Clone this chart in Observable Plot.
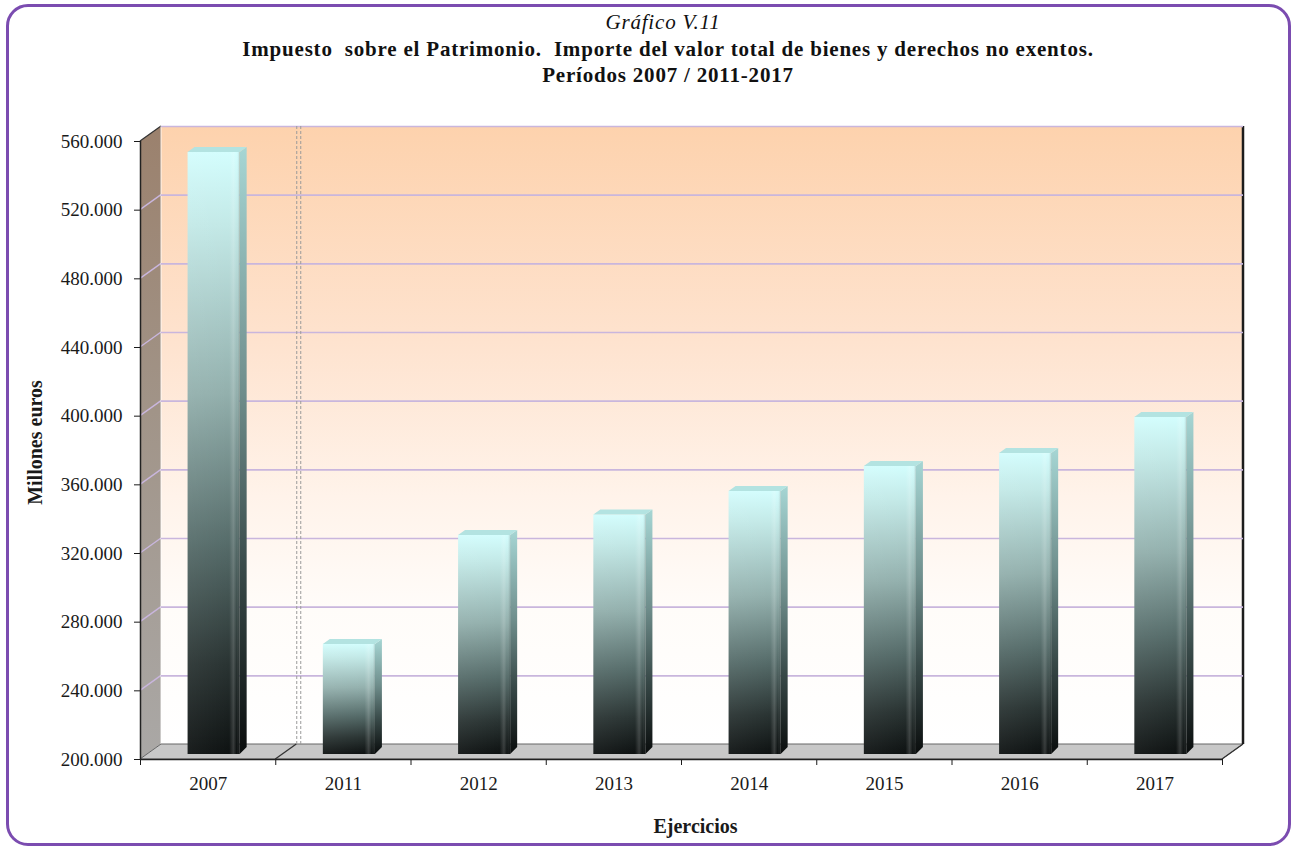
<!DOCTYPE html>
<html>
<head>
<meta charset="utf-8">
<script src="https://cdn.jsdelivr.net/npm/d3@7"></script>
<script src="https://cdn.jsdelivr.net/npm/@observablehq/plot@0.6"></script>
<style>
  html, body { margin: 0; padding: 0; background: #fff; }
  body { width: 1292px; height: 847px; overflow: hidden; position: relative;
         font-family: "Liberation Serif", "Times New Roman", serif; color: #111; }
  #frame { position: absolute; left: 6px; top: 4px; width: 1285px; height: 842px; box-sizing: border-box;
           border: 3px solid #7b4cb0; border-radius: 22px; pointer-events: none; }
  #title { height: 100px; box-sizing: border-box; padding-top: 9px; padding-left: 44px; text-align: center; overflow: hidden; }
  #title div { line-height: 26.5px; font-size: 21px; letter-spacing: 0.8px; white-space: pre; }
  #title .t0 { font-style: italic; margin-left: -10px; }
  #title .t1 { font-weight: bold; }
  #chart svg { display: block; }
</style>
</head>
<body>
<div id="title"><div class="t0">Gráfico V.11</div><div class="t1">Impuesto  sobre el Patrimonio.  Importe del valor total de bienes y derechos no exentos.</div><div class="t1">Períodos 2007 / 2011-2017</div></div>
<div id="chart"></div>
<div id="frame"></div>
<script>
// ---- data ----
const years = ["2007", "2011", "2012", "2013", "2014", "2015", "2016", "2017"];
const values = [550700, 264100, 327600, 339500, 353200, 367800, 375300, 396300];
const yTicks = [200000, 240000, 280000, 320000, 360000, 400000, 440000, 480000, 520000, 560000];
const xLabel = "Ejercicios";
const yLabel = "Millones euros";

const barData = years.map((year, i) => ({year, i, value: values[i]}));
const fmt = d => d3.format(",")(d).replace(/,/g, ".");

// 3D offsets (pixels)
const DX = 21, DY = -15;   // wall depth
const BX = 6, BY = -5;     // bar front plane offset
const BDX = 7, BDY = -5;   // bar depth

const chart = Plot.plot({
  width: 1292, height: 747,
  marginLeft: 140, marginRight: 70, marginTop: 41, marginBottom: 88,
  style: {fontFamily: '"Liberation Serif","Times New Roman",serif', fontSize: "19px",
          color: "#1a1a1a", background: "transparent", overflow: "visible"},
  x: {domain: [0, 8], ticks: d3.range(9), tickFormat: () => "", tickSize: 6, label: null},
  y: {domain: [200000, 560000], ticks: yTicks, tickFormat: fmt, tickSize: 6, tickPadding: 12, label: null},
  marks: [
    Plot.ruleY(yTicks.slice(1), {x1: 0, x2: 8, dx: DX, dy: DY, stroke: "#c9b6dd", strokeWidth: 1.6}),
    Plot.ruleX([1], {y1: 200000, y2: 560000, dx: DX, dy: DY, stroke: "#9a9a9a", strokeDasharray: "3,2"}),
    Plot.ruleX([1], {y1: 200000, y2: 560000, dx: DX + 4, dy: DY, stroke: "#9a9a9a", strokeDasharray: "3,2"}),
    Plot.rectY(barData, {x1: d => d.i + 0.3075, x2: d => d.i + 0.6925, y1: 200000, y2: "value",
                         dx: BX, dy: BY, fill: "url(#barFront)"}),
    Plot.rectY(barData, {x1: d => d.i + 0.3075, x2: d => d.i + 0.6925, y1: 200000, y2: "value",
                         dx: BX, dy: BY, fill: "url(#barShine)"}),
    Plot.ruleX([0], {y1: 200000, y2: 560000, stroke: "#222", strokeWidth: 1.5}),
    Plot.ruleY([200000], {x1: 0, x2: 8, stroke: "#222", strokeWidth: 1.5}),
    Plot.text(years, {x: (d, i) => i + 0.5, y: () => 200000, dy: 24, fontSize: 19}),
    Plot.text([xLabel], {frameAnchor: "bottom", lineAnchor: "middle", dx: 14, dy: 67, fontWeight: "bold", fontSize: 20}),
    Plot.text([yLabel], {frameAnchor: "left", textAnchor: "middle", rotate: -90, dx: -105, dy: -8, fontWeight: "bold", fontSize: 20})
  ]
});

document.getElementById("chart").appendChild(chart);

// ---- 3D decoration derived from Plot's scales ----
const svg = d3.select(chart);
const sx = chart.scale("x"), sy = chart.scale("y");
const X = d3.scaleLinear().domain(sx.domain).range(sx.range);
const Y = d3.scaleLinear().domain(sy.domain).range(sy.range);

const defs = svg.insert("defs", ":first-child");
function vgrad(id, stops, horiz) {
  const g = defs.append("linearGradient").attr("id", id)
    .attr("x1", 0).attr("y1", 0).attr("x2", horiz ? 1 : 0).attr("y2", horiz ? 0 : 1);
  stops.forEach(([o, c, a]) => g.append("stop").attr("offset", o).attr("stop-color", c)
    .attr("stop-opacity", a == null ? 1 : a));
}
vgrad("wallGrad", [[0, "#fdd2ad"], [0.35, "#fee3cf"], [0.6, "#fff3ea"], [0.78, "#fffcf9"], [1, "#ffffff"]]);
vgrad("leftGrad", [[0, "#9b816d"], [0.45, "#a19488"], [1, "#aaa8a6"]]);
vgrad("barFront", [[0, "#d3fdfd"], [0.12, "#c3e9e7"], [0.4, "#93b0ad"], [0.65, "#566c6a"], [0.85, "#2a3433"], [1, "#0e1212"]]);
vgrad("barSide", [[0, "#a6d6d4"], [0.4, "#6f8e8c"], [0.7, "#384948"], [1, "#0a0d0d"]]);
vgrad("barShine", [[0, "#ffffff", 0.05], [0.8, "#ffffff", 0], [0.88, "#ffffff", 0.16], [0.94, "#ffffff", 0], [1, "#000000", 0.15]], true);

const x0 = X(0), x8 = X(8), y0 = Y(200000), yT = Y(560000);
const bg = svg.insert("g", "g");
bg.append("rect").attr("x", x0 + DX).attr("y", yT + DY).attr("width", x8 - x0).attr("height", y0 - yT)
  .attr("fill", "url(#wallGrad)");
bg.append("polygon")
  .attr("points", [[x0, yT], [x0 + DX, yT + DY], [x0 + DX, y0 + DY], [x0, y0]].join(" "))
  .attr("fill", "url(#leftGrad)");
yTicks.slice(1, -1).forEach(v => {
  bg.append("line").attr("x1", x0).attr("y1", Y(v)).attr("x2", x0 + DX).attr("y2", Y(v) + DY)
    .attr("stroke", "#c9b6dd").attr("stroke-width", 1.4);
});
bg.append("line").attr("x1", x0).attr("y1", yT).attr("x2", x0 + DX).attr("y2", yT + DY)
  .attr("stroke", "#333").attr("stroke-width", 1.2);
bg.append("line").attr("x1", x0 + DX).attr("y1", yT + DY).attr("x2", x0 + DX).attr("y2", y0 + DY)
  .attr("stroke", "#ffffff").attr("stroke-width", 1).attr("stroke-opacity", 0.8);
bg.append("polygon")
  .attr("points", [[x0, y0], [x8, y0], [x8 + DX, y0 + DY], [x0 + DX, y0 + DY]].join(" "))
  .attr("fill", "#c8c8c8").attr("stroke", "#666").attr("stroke-width", 1);
bg.append("line").attr("x1", X(1)).attr("y1", y0).attr("x2", X(1) + DX).attr("y2", y0 + DY)
  .attr("stroke", "#333").attr("stroke-width", 1.3);
bg.append("line").attr("x1", x8).attr("y1", y0).attr("x2", x8 + DX).attr("y2", y0 + DY)
  .attr("stroke", "#333").attr("stroke-width", 1.3);
bg.append("line").attr("x1", x8 + DX).attr("y1", yT + DY).attr("x2", x8 + DX).attr("y2", y0 + DY)
  .attr("stroke", "#1c1c1c").attr("stroke-width", 2.5);

// bar side and top faces, from the rendered bar rectangles
svg.selectAll("g").filter(function () { return this.getAttribute("fill") === "url(#barFront)"; })
  .each(function () {
    const g = d3.select(this);
    const rects = g.selectAll("rect").nodes();
    rects.forEach(r => {
      const x = +r.getAttribute("x"), y = +r.getAttribute("y");
      const w = +r.getAttribute("width"), h = +r.getAttribute("height");
      g.append("polygon")
        .attr("points", [[x + w, y], [x + w + BDX, y + BDY], [x + w + BDX, y + h + BDY - 2], [x + w, y + h]].join(" "))
        .attr("fill", "url(#barSide)");
      g.append("polygon")
        .attr("points", [[x, y], [x + BDX, y + BDY], [x + w + BDX, y + BDY], [x + w, y]].join(" "))
        .attr("fill", "#b3e3e1");
    });
  });
</script>
</body>
</html>
